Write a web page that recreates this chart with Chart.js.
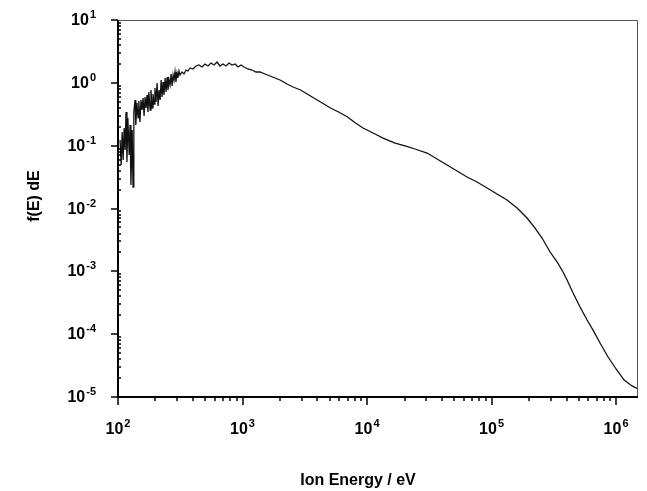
<!DOCTYPE html>
<html>
<head>
<meta charset="utf-8">
<script src="https://cdn.jsdelivr.net/npm/chart.js@4.4.1/dist/chart.umd.min.js"></script>
<style>
  body { margin: 0; background: #fff; }
  #wrap { width: 647px; height: 491px; }
</style>
</head>
<body>
<div id="wrap"><canvas id="ion-chart" width="647" height="491"></canvas></div>
<script>
// ion energy (eV)
const energyEV = [
    104, 106, 108, 110, 112, 114, 116, 118, 120, 123,
    125, 127, 130, 132, 134, 137, 139, 142, 145, 147,
    150, 153, 156, 159, 162, 165, 168, 171, 174, 177,
    181, 184, 188, 191, 195, 198, 202, 206, 210, 214,
    218, 222, 226, 230, 234, 239, 243, 248, 252, 257,
    262, 267, 272, 277, 282, 287, 292, 298, 303, 309,
    315, 327, 339, 352, 365, 379, 400, 423, 447, 473,
    500, 528, 558, 590, 624, 660, 697, 737, 779, 824,
    871, 920, 973, 1028, 1107, 1192, 1284, 1382, 1516, 1663,
    1824, 2001, 2277, 2544, 2924, 3517, 4231, 5090, 6124, 6973,
    8084, 9288, 11170, 13440, 16790, 20200, 24300, 30340, 36500, 43920,
    52840, 63560, 76470, 92030, 110700, 133200, 160300, 192800, 223600, 254500,
    295100, 335800, 375200, 404100, 451400, 513800, 585000, 653500, 750900, 862500,
    1000000, 1160000, 1345000, 1500000
];

// f(E) dE
const fluxDE = [
    0.123, 0.0492, 0.165, 0.0591, 0.191, 0.0853, 0.343, 0.0549, 0.276, 0.0710,
    0.213, 0.0237, 0.178, 0.0220, 0.343, 0.533, 0.213, 0.478, 0.276, 0.514,
    0.238, 0.533, 0.369, 0.574, 0.297, 0.595, 0.398, 0.640, 0.343, 0.715,
    0.369, 0.769, 0.398, 0.664, 0.460, 0.827, 0.495, 0.994, 0.428, 0.769,
    0.533, 1.109, 0.595, 1.031, 0.640, 1.194, 0.715, 1.238, 0.769, 1.109,
    0.924, 1.382, 0.890, 1.332, 1.109, 1.487, 1.031, 1.434, 1.194, 1.543,
    1.332, 1.487, 1.382, 1.600, 1.543, 1.722, 1.660, 1.853, 1.922, 1.786,
    1.994, 1.853, 2.068, 1.922, 2.146, 1.853, 1.994, 1.853, 2.068, 1.922,
    1.994, 1.786, 1.922, 1.786, 1.660, 1.600, 1.487, 1.487, 1.382, 1.284,
    1.194, 1.109, 0.958, 0.858, 0.769, 0.617, 0.495, 0.398, 0.331, 0.286,
    0.229, 0.191, 0.159, 0.132, 0.110, 0.0988, 0.0885, 0.0764, 0.0613, 0.0492,
    0.0395, 0.0317, 0.0264, 0.0212, 0.0170, 0.01365, 0.01018, 0.00706, 0.00489, 0.00339,
    0.00203, 0.00141, 0.000976, 0.000727, 0.000452, 0.000270, 0.000168, 0.000116, 0.0000697, 0.0000433,
    0.0000279, 0.0000186, 0.0000150, 0.0000134
];

// decade tick labels (exponents of 10)
const xTickExponents = ['2', '3', '4', '5', '6'];
const yTickExponents = ['1', '0', '-1', '-2', '-3', '-4', '-5'];

const xTitle = 'Ion Energy / eV';
const yTitle = 'f(E) dE';

const points = energyEV.map((e, i) => ({ x: e, y: fluxDE[i] }));

const FONT = '"Liberation Sans", Arial, Helvetica, sans-serif';

// "10" with a raised exponent
function drawPower(ctx, exp, x, y, align) {
    ctx.font = 'bold 16px ' + FONT;
    const baseW = ctx.measureText('10').width;
    ctx.font = 'bold 11px ' + FONT;
    const expW = ctx.measureText(exp).width;
    const w = baseW + 1 + expW;
    let start = x - w / 2;
    if (align === 'right') start = x - w;
    ctx.textAlign = 'left';
    ctx.textBaseline = 'alphabetic';
    ctx.font = 'bold 16px ' + FONT;
    ctx.fillText('10', start, y);
    ctx.font = 'bold 11px ' + FONT;
    ctx.fillText(exp, start + baseW + 1, y - 7);
}

const axesPlugin = {
    id: 'logAxes',
    afterDraw(chart) {
        const ctx = chart.ctx;
        const area = chart.chartArea;
        const xs = chart.scales.x;
        const ys = chart.scales.y;
        ctx.save();
        ctx.fillStyle = '#000';
        ctx.strokeStyle = '#000';

        // thin top / right frame
        ctx.lineWidth = 1;
        ctx.strokeStyle = '#555';
        ctx.beginPath();
        ctx.moveTo(area.left, area.top + 0.5);
        ctx.lineTo(area.right - 0.5, area.top + 0.5);
        ctx.lineTo(area.right - 0.5, area.bottom);
        ctx.stroke();

        // heavy left / bottom axes
        ctx.strokeStyle = '#000';
        ctx.lineWidth = 2;
        ctx.beginPath();
        ctx.moveTo(area.left, area.top);
        ctx.lineTo(area.left, area.bottom);
        ctx.lineTo(area.right, area.bottom);
        ctx.stroke();

        // x ticks
        ctx.lineWidth = 1.5;
        for (let e = 2; e <= 6; e++) {
            for (let m = 1; m <= 9; m++) {
                const v = m * Math.pow(10, e);
                if (v < xs.min || v > xs.max) continue;
                const px = Math.round(xs.getPixelForValue(v));
                const len = m === 1 ? 8 : 4;
                ctx.beginPath();
                ctx.moveTo(px, area.bottom);
                ctx.lineTo(px, area.bottom + len);
                ctx.stroke();
            }
        }
        // y ticks
        for (let e = -5; e <= 1; e++) {
            for (let m = 1; m <= 9; m++) {
                const v = m * Math.pow(10, e);
                if (v < ys.min * 0.999 || v > ys.max * 1.001) continue;
                const py = Math.round(ys.getPixelForValue(v));
                ctx.beginPath();
                if (m === 1) {
                    ctx.moveTo(area.left - 7, py);
                    ctx.lineTo(area.left, py);
                } else {
                    ctx.moveTo(area.left, py);
                    ctx.lineTo(area.left + 3, py);
                }
                ctx.stroke();
            }
        }

        // tick labels
        xTickExponents.forEach(exp => {
            const px = xs.getPixelForValue(Math.pow(10, Number(exp)));
            drawPower(ctx, exp, px, 434, 'center');
        });
        yTickExponents.forEach(exp => {
            const py = ys.getPixelForValue(Math.pow(10, Number(exp)));
            drawPower(ctx, exp, area.left - 22, py + 5, 'right');
        });

        // axis titles
        ctx.font = 'bold 16px ' + FONT;
        ctx.textAlign = 'center';
        ctx.textBaseline = 'alphabetic';
        ctx.fillText(xTitle, 358, 485);
        ctx.translate(39, 196);
        ctx.rotate(-Math.PI / 2);
        ctx.fillText(yTitle, 0, 0);
        ctx.restore();
    }
};

const ctx = document.getElementById('ion-chart').getContext('2d');
const chart = new Chart(ctx, {
    type: 'line',
    data: {
        datasets: [{
            label: 'f(E) dE',
            data: points,
            borderColor: '#111',
            borderWidth: 1.3,
            pointRadius: 0,
            tension: 0,
            fill: false
        }]
    },
    options: {
        responsive: false,
        animation: false,
        layout: { padding: { left: 118, right: 9, top: 20, bottom: 94 } },
        plugins: {
            legend: { display: false },
            tooltip: { enabled: false }
        },
        scales: {
            x: {
                type: 'logarithmic',
                min: 100,
                max: 1500000,
                ticks: { display: false },
                grid: { display: false, drawTicks: false },
                border: { display: false },
                title: { display: false }
            },
            y: {
                type: 'logarithmic',
                min: 0.00001,
                max: 10,
                ticks: { display: false },
                grid: { display: false, drawTicks: false },
                border: { display: false },
                title: { display: false }
            }
        }
    },
    plugins: [axesPlugin]
});
</script>
</body>
</html>
